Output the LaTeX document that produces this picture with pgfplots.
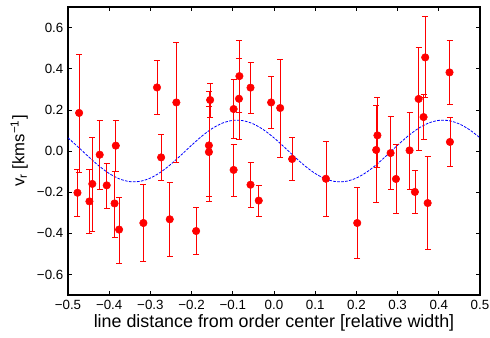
\documentclass[border=0pt]{standalone}
\usepackage{pgfplots}
\pgfplotsset{compat=1.18}
\usepackage{pgfplotstable}
\usepackage{fontspec}
\setmainfont{Liberation Sans}
\usetikzlibrary{calc}

\pgfplotstableread{
x y top bot
-0.477 -0.203 -0.089 -0.316
-0.473 0.185 0.471 -0.102
-0.448 -0.245 -0.089 -0.403
-0.441 -0.160 0.068 -0.389
-0.423 -0.018 0.149 -0.187
-0.406 -0.167 -0.058 -0.277
-0.384 0.026 0.149 -0.097
-0.387 -0.255 -0.097 -0.420
-0.376 -0.382 -0.224 -0.544
-0.317 -0.350 -0.160 -0.539
-0.284 0.309 0.440 0.176
-0.274 -0.031 0.083 -0.144
-0.237 0.236 0.528 -0.053
-0.253 -0.332 -0.151 -0.512
-0.189 -0.389 -0.274 -0.505
-0.155 0.248 0.330 0.165
-0.158 0.027 0.290 -0.220
-0.158 -0.005 0.217 -0.245
-0.098 0.204 0.350 0.060
-0.084 0.364 0.537 0.190
-0.085 0.254 0.448 0.056
-0.098 -0.092 0.032 -0.219
-0.057 0.308 0.432 0.181
-0.057 -0.164 -0.057 -0.272
-0.037 -0.241 -0.169 -0.316
-0.007 0.236 0.364 0.108
0.015 0.209 0.445 -0.029
0.044 -0.039 0.066 -0.144
0.126 -0.135 0.047 -0.318
0.202 -0.350 -0.177 -0.523
0.251 0.076 0.260 -0.080
0.248 0.005 0.223 -0.250
0.283 -0.010 0.167 -0.187
0.296 -0.136 0.032 -0.305
0.329 0.003 0.190 -0.185
0.342 -0.199 -0.096 -0.305
0.351 0.253 0.503 0.001
0.363 0.165 0.277 0.055
0.367 0.455 0.654 0.259
0.373 -0.253 -0.026 -0.478
0.426 0.382 0.539 0.225
0.427 0.044 0.163 -0.073
}\data

\begin{document}
\begin{tikzpicture}
\begin{axis}[
  scale only axis, width=309pt, height=216pt,
  xmin=-0.5, xmax=0.5, ymin=-0.7, ymax=0.7,
  xtick={-0.5,-0.4,-0.3,-0.2,-0.1,0,0.1,0.2,0.3,0.4,0.5},
  xticklabels={−0.5,−0.4,−0.3,−0.2,−0.1,0.0,0.1,0.2,0.3,0.4,0.5},
  ytick={-0.6,-0.4,-0.2,0,0.2,0.4,0.6},
  yticklabels={−0.6,−0.4,−0.2,0.0,0.2,0.4,0.6},
  tick align=inside, major tick length=3pt,
  tick style={black, line width=0.5pt},
  axis line style={line width=0.9pt},
  tick label style={font=\fontsize{10}{12}\selectfont},
  ylabel style={font=\fontsize{12.5}{15}\selectfont},
  xlabel style={font=\fontsize{13.4}{16}\selectfont, yshift=3pt},
  xlabel={line distance from order center [relative width]},
  ylabel={v\textsubscript{r} [kms\textsuperscript{−1}]},
]
\addplot[blue, dash pattern=on 2pt off 1pt, line width=0.6pt, smooth] coordinates {
(-0.5,0.0639) (-0.475,0.0188) (-0.45,-0.0281) (-0.425,-0.0723) (-0.4,-0.1094)
(-0.375,-0.1357) (-0.35,-0.1488) (-0.325,-0.1473) (-0.3,-0.1314) (-0.275,-0.1027)
(-0.25,-0.0639) (-0.225,-0.0188) (-0.2,0.0281) (-0.175,0.0723) (-0.15,0.1094)
(-0.125,0.1357) (-0.1,0.1488) (-0.075,0.1473) (-0.05,0.1314) (-0.025,0.1027)
(0,0.0639) (0.025,0.0188) (0.05,-0.0281) (0.075,-0.0723) (0.1,-0.1094)
(0.125,-0.1357) (0.15,-0.1488) (0.175,-0.1473) (0.2,-0.1314) (0.225,-0.1027)
(0.25,-0.0639) (0.275,-0.0188) (0.3,0.0281) (0.325,0.0723) (0.35,0.1094)
(0.375,0.1357) (0.4,0.1488) (0.425,0.1473) (0.45,0.1314) (0.475,0.1027)
(0.5,0.0639)
};
\addplot[only marks, mark=*, mark size=2.8pt, red, mark options={fill=red, draw=red},
  error bars/.cd, y dir=both, y explicit,
  error bar style={red, line width=0.6pt},
  error mark options={rotate=90, red, mark size=2.25pt, line width=0.6pt}]
  table[x=x, y=y, y error plus expr=\thisrow{top}-\thisrow{y}, y error minus expr=\thisrow{y}-\thisrow{bot}] \data;
\end{axis}
\pgfresetboundingbox
\useasboundingbox ($(current axis.south west)+(-51pt,-32.25pt)$) rectangle ($(current axis.north east)+(7.5pt,5.25pt)$);
\end{tikzpicture}
\end{document}
